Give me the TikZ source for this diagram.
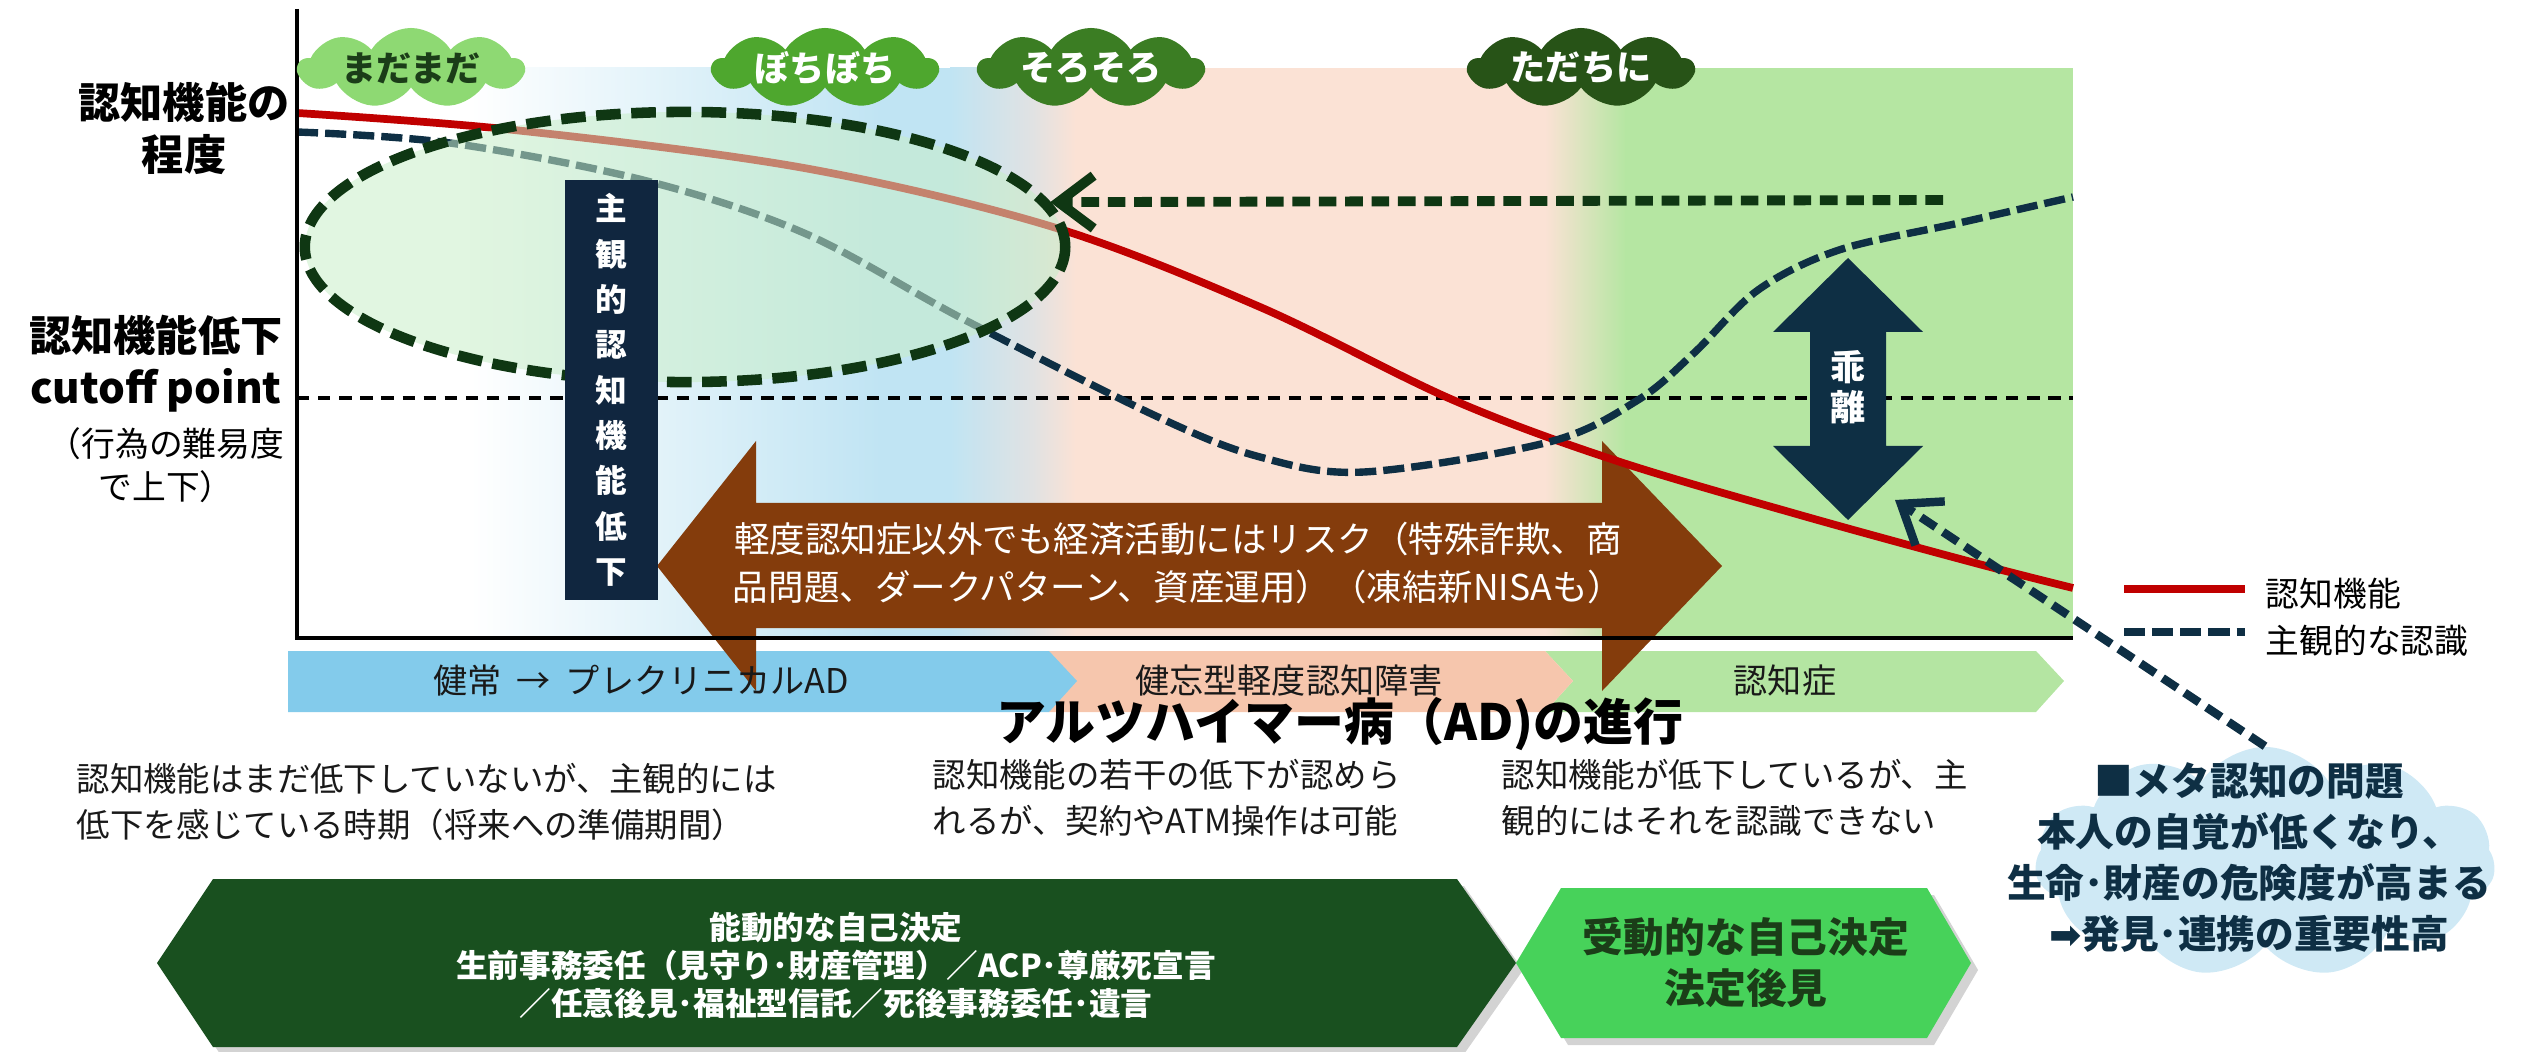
\documentclass[tikz,border=0pt]{standalone}
\usepackage{fontspec}
\setmainfont{Noto Sans CJK JP}
\newfontfamily\symfont{DejaVu Sans}
\usetikzlibrary{arrows.meta,shapes.symbols,shapes.geometric,shadows}

\definecolor{cogred}{HTML}{C00000}
\definecolor{navy}{HTML}{0E2F44}
\definecolor{darkgrn}{HTML}{0F3713}
\definecolor{bgblue}{HTML}{C0E4F3}
\definecolor{bggray}{HTML}{E2E2E2}
\definecolor{bgpeach}{HTML}{FBE2D5}
\definecolor{bggreen}{HTML}{B5E6A2}
\definecolor{barblue}{HTML}{83CBEB}
\definecolor{barpeach}{HTML}{F6C6AD}
\definecolor{bargreen}{HTML}{B4E5A2}
\definecolor{brownarr}{HTML}{843C0C}
\definecolor{boxnavy}{HTML}{10263F}
\definecolor{cloudA}{HTML}{8ED973}
\definecolor{cloudB}{HTML}{4EA72E}
\definecolor{cloudC}{HTML}{3B7D23}
\definecolor{cloudD}{HTML}{275317}
\definecolor{hexdark}{HTML}{19501F}
\definecolor{hexlight}{HTML}{47D25A}
\definecolor{metablue}{HTML}{CFE9F5}
\definecolor{txtgrn}{HTML}{1B3D18}

\tikzset{
  stage/.style={cloud, cloud puffs=9, cloud puff arc=115, aspect=2.6, minimum width=2.25cm, minimum height=0.8cm, inner sep=0pt},
  stagetext/.style={font=\bfseries\fontsize{10}{12}\selectfont, inner sep=0pt},
  ylabel/.style={align=center, font=\bfseries\fontsize{12}{14.8}\selectfont, inner sep=0pt},
  barlabel/.style={font=\fontsize{9.7}{12}\selectfont, text=black!90, inner sep=0pt},
  desc/.style={align=left, anchor=west, font=\fontsize{9.5}{13}\selectfont, text=black!90, inner sep=0pt},
  subjline/.style={navy, line width=2.1pt, dash pattern=on 6pt off 2pt},
  hint/.style={line width=2.8pt, dash pattern=on 5pt off 2.5pt, -{Straight Barb[length=10pt,width=15pt]}},
}

\begin{document}
\begin{tikzpicture}[x=0.01cm, y=-0.01cm]
\useasboundingbox (0,0) rectangle (2521,1052);

\shade[left color=white, right color=bgblue] (470,68) rectangle (881,638);
\fill[bgblue] (880,68) rectangle (951,638);
\shade[left color=bgblue, right color=bggray] (950,68) rectangle (1036,638);
\shade[left color=bggray, right color=bgpeach] (1035,68) rectangle (1076,638);
\fill[bgpeach] (1075,68) rectangle (1546,638);
\shade[left color=bgpeach, right color=bggreen] (1545,68) rectangle (1626,638);
\fill[bggreen] (1625,68) rectangle (2073,638);

\fill[bargreen] (1545,651) -- (2036,651) -- (2064,681) -- (2036,712) -- (1545,712) -- (1573,681) -- cycle;
\fill[barpeach] (1049,651) -- (1545,651) -- (1573,681) -- (1545,712) -- (1049,712) -- cycle;
\fill[barblue] (288,651) -- (1049,651) -- (1077,681) -- (1049,712) -- (288,712) -- cycle;

\draw[line width=1.1pt, dash pattern=on 3.5pt off 2.5pt] (297,398) -- (2073,398);

\fill[brownarr] (657,566) -- (756,441) -- (756,503) -- (1602,503) -- (1602,441) -- (1722,566)
  -- (1602,691) -- (1602,628) -- (756,628) -- (756,691) -- cycle;

\draw[cogred, line width=2.2pt] plot[smooth, tension=0.55] coordinates {(297,113) (514,130) (804,168) (1053,227) (1260,307) (1453,400) (1614,460) (1800,515) (1975,563) (2073,588)};
\draw[subjline] plot[smooth, tension=0.55] coordinates {(297,132) (450,143) (643,180) (804,233) (965,320) (1158,417) (1260,457) (1364,472) (1549,442) (1638,400) (1694,353) (1758,290) (1839,250) (1959,223) (2073,197)};

\node[ellipse, minimum width=7.6cm, minimum height=2.7cm, inner sep=0pt, draw=darkgrn, line width=3pt,
  dash pattern=on 7pt off 3pt, fill={rgb,255:red,200;green,238;blue,200}, fill opacity=0.55] (aware) at (685,247) {};

\node[fill=boxnavy, text=white, minimum width=0.93cm, minimum height=4.2cm, align=center,
  font=\bfseries\fontsize{9}{12.9}\selectfont] (subjbox) at (611.5,390) {主\\観\\的\\認\\知\\機\\能\\低\\下};

\draw[line width=1.1pt] (297,9) -- (297,638) -- (2073,638);

\fill[navy] (1848,258) -- (1923,332) -- (1886,332) -- (1886,446) -- (1923,446) -- (1848,520)
  -- (1773,446) -- (1810,446) -- (1810,332) -- (1773,332) -- cycle;
\node[text=white, align=center, font=\bfseries\fontsize{10}{11.4}\selectfont, inner sep=0pt] (gap) at (1848,387) {乖\\離};

\coordinate (hintstart) at (1943,200);
\draw[hint, darkgrn] (hintstart) -- (aware.7.5);

\node[stage, fill=cloudA] (madacl) at (411,68) {};
\node[stagetext, text=txtgrn] (mada) at (madacl) {まだまだ};
\node[stage, fill=cloudB] (bochicl) at (825,68) {};
\node[stagetext, text=white] (bochi) at (bochicl) {ぼちぼち};
\node[stage, fill=cloudC] (sorocl) at (1091,68) {};
\node[stagetext, text=white] (soro) at (sorocl) {そろそろ};
\node[stage, fill=cloudD] (tadacl) at (1581,68) {};
\node[stagetext, text=white] (tada) at (tadacl) {ただちに};

\node[ylabel] (level) at (184,128) {認知機能の\\程度};
\node[ylabel] (cutoff) at (156,364) {認知機能低下\\cutoff point};
\node[align=center, font=\fontsize{9.6}{12.3}\selectfont, inner sep=0pt] (cutnote) at (166,465) {（行為の難易度\\で上下）};

\node[text=white, align=center, font=\fontsize{10.1}{13.4}\selectfont, inner sep=0pt] (risk) at (1178,563)
  {軽度認知症以外でも経済活動にはリスク（特殊詐欺、商\\品問題、ダークパターン、資産運用）（凍結新NISAも）};

\node[barlabel] (healthy) at (641,681) {健常\ \ →\ \ プレクリニカルAD};
\node[barlabel] (mci) at (1289,681) {健忘型軽度認知障害};
\node[barlabel] (dementia) at (1785,681) {認知症};
\node[font=\bfseries\fontsize{14.2}{16}\selectfont, inner sep=0pt] (title) at (1340,724) {アルツハイマー病（AD)の進行};

\node[desc] (descA) at (76,802) {認知機能はまだ低下していないが、主観的には\\低下を感じている時期（将来への準備期間）};
\node[desc] (descB) at (932,798) {認知機能の若干の低下が認めら\\れるが、契約やATM操作は可能};
\node[desc] (descC) at (1501,798) {認知機能が低下しているが、主\\観的にはそれを認識できない};

\fill[hexdark, drop shadow={shadow xshift=2pt, shadow yshift=-2pt, opacity=0.35}] (157,963) -- (213,879) -- (1457,879) -- (1516,963) -- (1457,1047) -- (213,1047) -- cycle;
\node[text=white, align=center, font=\bfseries\fontsize{9}{10.8}\selectfont, inner sep=0pt] (active) at (836,965)
  {能動的な自己決定\\生前事務委任（見守り･財産管理）／ACP･尊厳死宣言\\／任意後見･福祉型信託／死後事務委任･遺言};
\fill[hexlight, drop shadow={shadow xshift=2pt, shadow yshift=-2pt, opacity=0.35}] (1516,963) -- (1561,888) -- (1927,888) -- (1971,963) -- (1927,1038) -- (1561,1038) -- cycle;
\node[text=txtgrn, align=center, font=\bfseries\fontsize{11.6}{14.5}\selectfont, inner sep=0pt] (passive) at (1746,962)
  {受動的な自己決定\\法定後見};

\node[cloud, cloud puffs=11, cloud puff arc=115, aspect=1.8, fill=metablue, minimum width=4.6cm, minimum height=2.3cm, inner sep=0pt] (metacl) at (2265,862) {};
\node[text=navy, align=center, font=\bfseries\fontsize{11}{14.5}\selectfont, inner sep=0pt] (meta) at (2249,857)
  {■メタ認知の問題\\本人の自覚が低くなり、\\生命･財産の危険度が高まる\\{\symfont ➡}発見･連携の重要性高};
\coordinate (gaptip) at (1895,500);
\draw[hint, navy, line width=2.4pt] (metacl.north) -- (gaptip);

\draw[cogred, line width=2.2pt] (2124,589) -- (2245,589);
\node[anchor=west, font=\fontsize{9.6}{12}\selectfont, inner sep=0pt] (legred) at (2265,594) {認知機能};
\draw[subjline] (2124,632) -- (2245,632);
\node[anchor=west, font=\fontsize{9.6}{12}\selectfont, inner sep=0pt] (legnavy) at (2265,641) {主観的な認識};
\end{tikzpicture}
\end{document}
